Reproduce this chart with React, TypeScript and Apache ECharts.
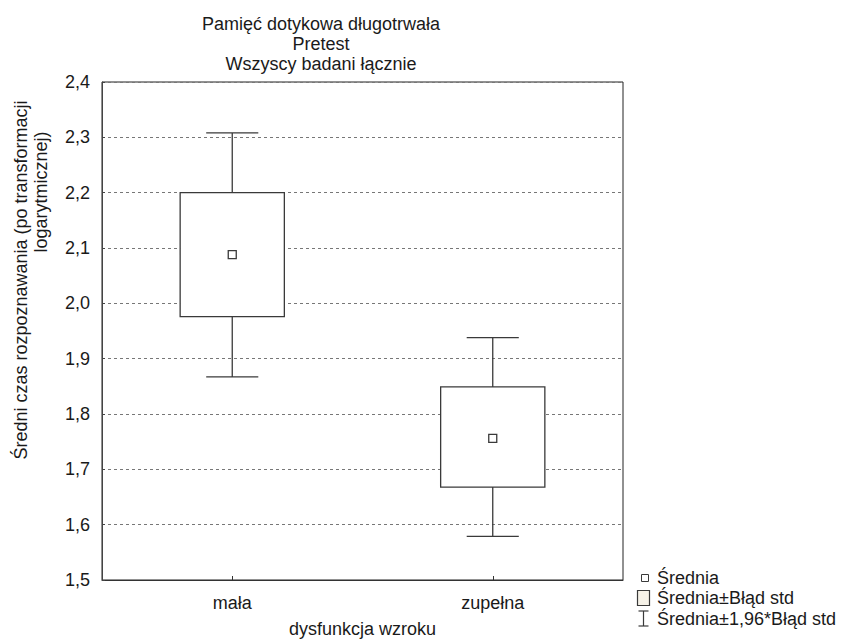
import React, { useEffect, useRef } from "react";
import * as echarts from "echarts";

const categories = ["mała", "zupełna"];
const means = [2.088, 1.756];
const seLow = [1.976, 1.668];
const seHigh = [2.2, 1.849];
const ciLow = [1.867, 1.579];
const ciHigh = [2.308, 1.938];
const yMin = 1.5;
const yMax = 2.4;
const yStep = 0.1;
const titleLines = ["Pamięć dotykowa długotrwała", "Pretest", "Wszyscy badani łącznie"];
const yNameLines = ["Średni czas rozpoznawania (po transformacji", "logarytmicznej)"];
const xName = "dysfunkcja wzroku";
const legendItems = ["Średnia", "Średnia±Błąd std", "Średnia±1,96*Błąd std"];

const FONT = "'Liberation Sans', Arial, sans-serif";
const TXT = "#1a1a1a";
const LINE = "#3a3a3a";

export default function App() {
  const ref = useRef<HTMLDivElement>(null);
  useEffect(() => {
    if (!ref.current) return;
    const chart = echarts.init(ref.current, undefined, { renderer: "svg" });
    const data = categories.map((_, i) => [i, ciLow[i], seLow[i], means[i], seHigh[i], ciHigh[i]]);
    const option: any = {
      animation: false,
      backgroundColor: "#ffffff",
      title: {
        text: titleLines.join("\n"),
        left: 316,
        textAlign: "center",
        top: 9,
        textStyle: { fontSize: 18, fontWeight: "normal", color: TXT, fontFamily: FONT, lineHeight: 20 },
      },
      grid: { left: 102, right: 224, top: 82, bottom: 58, show: true, borderColor: "#222", borderWidth: 1, backgroundColor: "transparent" },
      xAxis: {
        type: "category",
        data: categories,
        boundaryGap: true,
        axisLine: { show: true, lineStyle: { color: "#333" } },
        axisTick: { show: true, inside: true, alignWithLabel: true, length: 4, lineStyle: { color: "#333" } },
        axisLabel: { fontSize: 18, color: TXT, fontFamily: FONT, margin: 14 },
        splitLine: { show: false },
        name: xName,
        nameLocation: "middle",
        nameGap: 40,
        nameTextStyle: { fontSize: 18, color: TXT, fontFamily: FONT },
      },
      yAxis: {
        type: "value",
        min: yMin,
        max: yMax,
        interval: yStep,
        axisLine: { show: true, lineStyle: { color: "#444" } },
        axisTick: { show: true, inside: true, length: 3, lineStyle: { color: "#444" } },
        axisLabel: {
          fontSize: 18,
          color: TXT,
          fontFamily: FONT,
          margin: 12,
          formatter: (v: number) => v.toFixed(1).replace(".", ","),
        },
        splitLine: { show: true, lineStyle: { color: "#777", type: [3, 3], width: 1 } },
      },
      series: [
        {
          type: "custom",
          data,
          encode: { x: 0, y: [1, 2, 3, 4, 5] },
          z: 10,
          renderItem: (params: any, api: any) => {
            const xi = api.value(0);
            const band = api.size([1, 0])[0];
            const bw = band * 0.4;
            const cw = band * 0.2;
            const cx = api.coord([xi, api.value(3)])[0];
            const yCiL = api.coord([xi, api.value(1)])[1];
            const ySeL = api.coord([xi, api.value(2)])[1];
            const yM = api.coord([xi, api.value(3)])[1];
            const ySeH = api.coord([xi, api.value(4)])[1];
            const yCiH = api.coord([xi, api.value(5)])[1];
            const st = { stroke: LINE, lineWidth: 1.3 };
            return {
              type: "group",
              children: [
                { type: "line", shape: { x1: cx, y1: ySeH, x2: cx, y2: yCiH }, style: st },
                { type: "line", shape: { x1: cx, y1: ySeL, x2: cx, y2: yCiL }, style: st },
                { type: "line", shape: { x1: cx - cw / 2, y1: yCiH, x2: cx + cw / 2, y2: yCiH }, style: st },
                { type: "line", shape: { x1: cx - cw / 2, y1: yCiL, x2: cx + cw / 2, y2: yCiL }, style: st },
                {
                  type: "rect",
                  shape: { x: cx - bw / 2, y: ySeH, width: bw, height: ySeL - ySeH },
                  style: { fill: "#ffffff", stroke: LINE, lineWidth: 1.3 },
                },
                {
                  type: "rect",
                  shape: { x: cx - 4, y: yM - 4, width: 8, height: 8 },
                  style: { fill: "#ffffff", stroke: LINE, lineWidth: 1.3 },
                },
              ],
            };
          },
        },
      ],
      graphic: [
        {
          type: "text",
          x: 21,
          y: 280,
          rotation: Math.PI / 2,
          style: { text: yNameLines[0], fontSize: 18, fontFamily: FONT, fill: TXT, textAlign: "center", textVerticalAlign: "middle" },
        },
        {
          type: "text",
          x: 41,
          y: 192,
          rotation: Math.PI / 2,
          style: { text: yNameLines[1], fontSize: 18, fontFamily: FONT, fill: TXT, textAlign: "center", textVerticalAlign: "middle" },
        },
        { type: "rect", shape: { x: 641.5, y: 574.5, width: 7, height: 7 }, style: { fill: "#ffffff", stroke: LINE, lineWidth: 1 } },
        { type: "rect", shape: { x: 637.5, y: 590.5, width: 12, height: 15 }, style: { fill: "#f6f2e8", stroke: LINE, lineWidth: 1.2 } },
        { type: "line", shape: { x1: 643.5, y1: 611, x2: 643.5, y2: 626 }, style: { stroke: LINE, lineWidth: 1.2 } },
        { type: "line", shape: { x1: 638.5, y1: 611, x2: 648.5, y2: 611 }, style: { stroke: LINE, lineWidth: 1.2 } },
        { type: "line", shape: { x1: 638.5, y1: 626, x2: 648.5, y2: 626 }, style: { stroke: LINE, lineWidth: 1.2 } },
        ...legendItems.map((t, i) => ({
          type: "text",
          x: 657,
          y: [578, 598, 619][i],
          style: { text: t, fontSize: 18, fontFamily: FONT, fill: TXT, textAlign: "left", textVerticalAlign: "middle" },
        })),
      ],
    };
    chart.setOption(option);
    return () => chart.dispose();
  }, []);
  return <div ref={ref} style={{ position: "absolute", left: 0, top: 0, width: 847, height: 643 }} />;
}
